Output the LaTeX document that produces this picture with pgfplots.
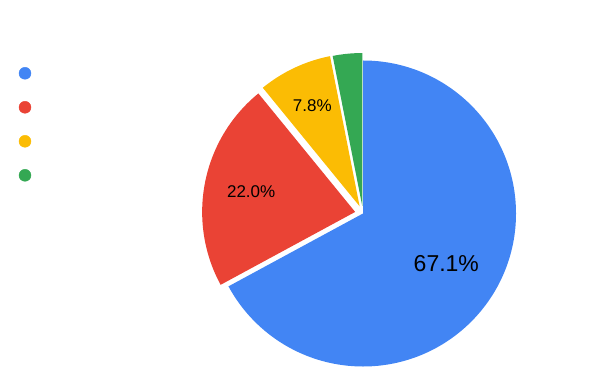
\documentclass[border=0pt]{standalone}
\usepackage{pgfplots}
\pgfplotsset{compat=1.18}
\usepackage{fontspec}
\setmainfont{Liberation Sans}
\definecolor{pblue}{HTML}{4285F4}
\definecolor{pred}{HTML}{EA4335}
\definecolor{pyellow}{HTML}{FBBC04}
\definecolor{pgreen}{HTML}{34A853}
\begin{document}
\begin{tikzpicture}
\begin{axis}[width=600bp,height=387bp,scale only axis,
  xmin=0,xmax=600,ymin=0,ymax=387,hide axis,clip=false]
\path (axis cs:0,0) rectangle (axis cs:600,387);
% slices: value / colour / offset / label radius / label size
\xdef\cum{0}
\foreach \v/\c/\o/\lr/\fs in {67.1/pblue/0/97/23,22.0/pred/8/106/17,7.8/pyellow/8/111/17,3.1/pgreen/7.5/0/0}{
  \pgfmathsetmacro\sa{90-3.6*\cum}
  \pgfmathsetmacro\ea{90-3.6*(\cum+\v)}
  \pgfmathsetmacro\ma{(\sa+\ea)/2}
  \pgfmathsetmacro\cx{363+\o*cos(\ma)}
  \pgfmathsetmacro\cy{173.5+\o*sin(\ma)}
  \pgfmathsetmacro\px{\cx+153*cos(\sa)}
  \pgfmathsetmacro\py{\cy+153*sin(\sa)}
  \edef\doit{\noexpand\fill[\c] (axis cs:\cx,\cy) -- (axis cs:\px,\py) arc[start angle=\sa, end angle=\ea, radius=153bp] -- cycle;}
  \doit
  \ifdim\lr pt>0pt
    \pgfmathsetmacro\lx{\cx+\lr*cos(\ma)}
    \pgfmathsetmacro\ly{\cy+\lr*sin(\ma)}
    \edef\doit{\noexpand\node[font=\noexpand\fontsize{\fs bp}{\fs bp}\noexpand\selectfont,inner sep=0pt] at (axis cs:\lx,\ly) {\v\noexpand\%};}
    \doit
  \fi
  \pgfmathsetmacro\newcum{\cum+\v}
  \xdef\cum{\newcum}
}
\addplot[only marks,mark=*,mark size=6bp,pblue] coordinates {(25,313.7)};
\addplot[only marks,mark=*,mark size=6bp,pred] coordinates {(25,279.7)};
\addplot[only marks,mark=*,mark size=6bp,pyellow] coordinates {(25,245.7)};
\addplot[only marks,mark=*,mark size=6bp,pgreen] coordinates {(25,211.7)};
\end{axis}
\end{tikzpicture}
\end{document}
